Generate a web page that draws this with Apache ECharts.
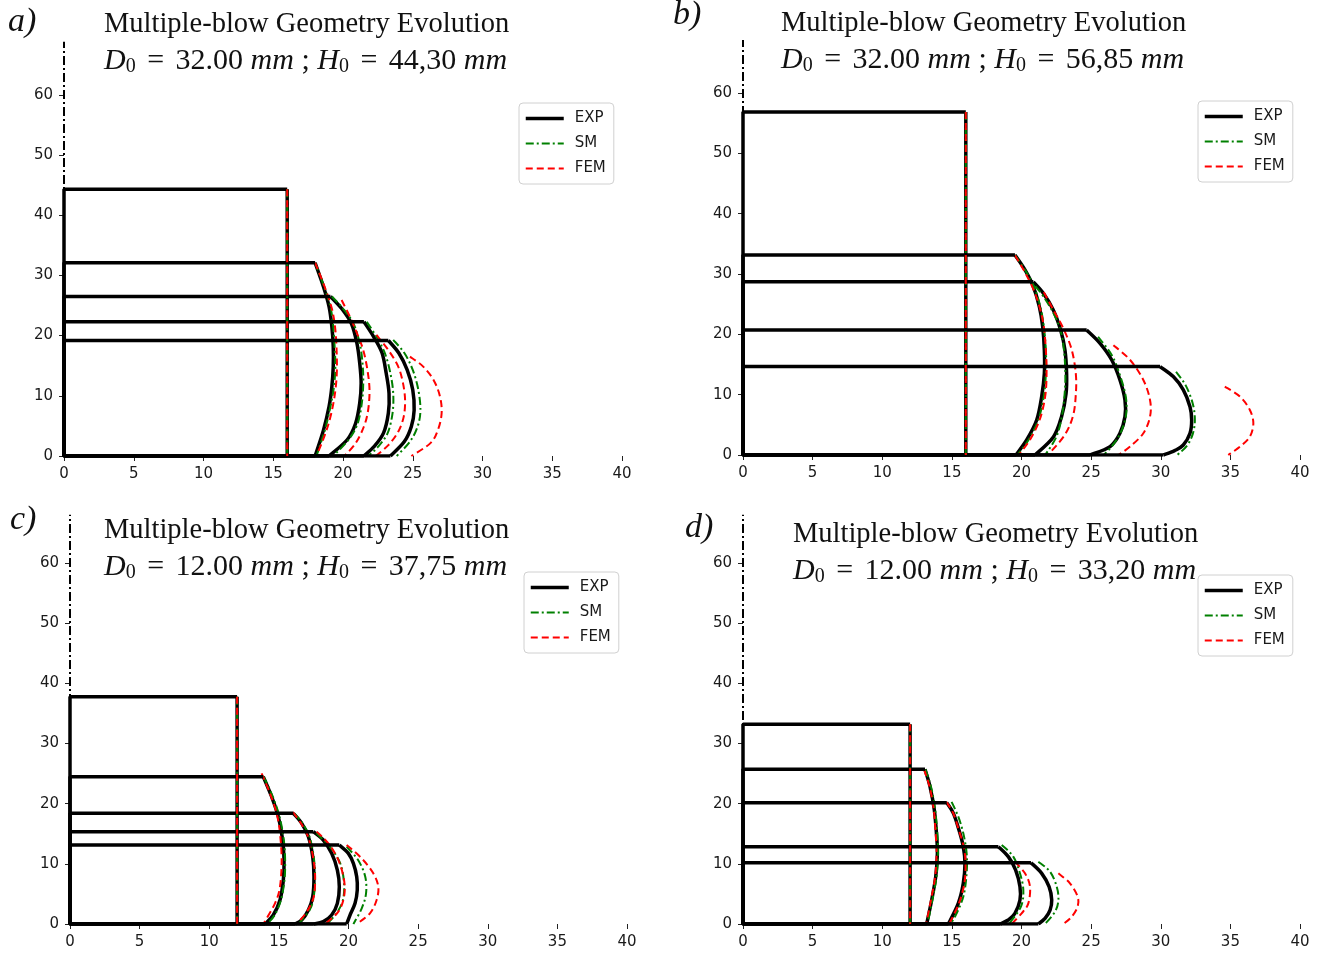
<!DOCTYPE html>
<html>
<head>
<meta charset="utf-8">
<script src="https://cdn.jsdelivr.net/npm/echarts@6/dist/echarts.min.js"></script>
<style>
  html, body { margin: 0; background: #fff; }
  #main { width: 1328px; height: 956px; }
</style>
</head>
<body>
<div id="main"></div>
<script>
const xTicks = [0, 5, 10, 15, 20, 25, 30, 35, 40];
const yTicks = [0, 10, 20, 30, 40, 50, 60];
const panelTags = ['a)', 'b)', 'c)', 'd)'];
const d0Labels = ['32.00', '32.00', '12.00', '12.00'];
const h0Labels = ['44,30', '56,85', '37,75', '33,20'];
const legendNames = ['EXP', 'SM', 'FEM'];

// side profiles [r, h] per blow, top corner first; first curve = initial billet
const expA = [
  [[16, 44.3], [16, 0]],
  [[18.0, 32.1], [18.6, 28.1], [19.0, 24.8], [19.2, 21.5], [19.3, 18.2], [19.3, 14.8], [19.2, 11.5], [19.0, 8.2], [18.6, 4.3], [18.0, 0]],
  [[19.1, 26.5], [19.9, 24.5], [20.6, 22.0], [21.0, 18.7], [21.2, 15.4], [21.3, 12.1], [21.2, 8.8], [20.9, 5.4], [20.3, 2.7], [19.0, 0]],
  [[21.5, 22.3], [22.2, 19.8], [22.8, 17.1], [23.1, 13.7], [23.3, 10.4], [23.25, 7.1], [22.9, 3.8], [22.2, 1.5], [21.5, 0]],
  [[23.25, 19.2], [24.0, 17.1], [24.6, 14.3], [25.0, 11.0], [25.1, 7.6], [24.9, 4.9], [24.4, 2.4], [23.4, 0]],
];
const smA = [
  [[16, 44.3], [16, 0]],
  [[18.0, 32.1], [18.65, 28.1], [19.1, 24.8], [19.3, 21.5], [19.4, 18.2], [19.45, 14.8], [19.35, 11.5], [19.1, 8.2], [18.7, 4.3], [18.1, 0]],
  [[19.2, 26.5], [20.0, 24.5], [20.75, 22.0], [21.2, 18.7], [21.4, 15.4], [21.45, 12.1], [21.35, 8.8], [21.05, 5.4], [20.4, 2.7], [19.3, 0]],
  [[21.7, 22.3], [22.4, 19.8], [23.0, 17.1], [23.4, 13.7], [23.6, 10.4], [23.55, 7.1], [23.2, 3.8], [22.5, 1.5], [21.8, 0]],
  [[23.6, 19.3], [24.4, 17.1], [25.0, 14.3], [25.4, 11.0], [25.55, 7.6], [25.35, 4.9], [24.8, 2.4], [23.85, 0]],
];
const femA = [
  [[16, 44.3], [16, 0]],
  [[18.0, 32.1], [18.7, 28.0], [19.2, 24.5], [19.45, 21.0], [19.55, 17.0], [19.55, 13.5], [19.4, 10.0], [19.1, 6.5], [18.7, 3.5], [18.1, 0]],
  [[19.9, 25.9], [20.5, 23.1], [21.0, 20.4], [21.45, 17.6], [21.75, 14.3], [21.9, 11.0], [21.8, 7.6], [21.5, 4.9], [20.9, 2.1], [20.1, 0]],
  [[22.4, 20.1], [23.25, 17.6], [23.95, 14.9], [24.3, 12.1], [24.45, 9.3], [24.35, 6.5], [23.95, 4.0], [23.25, 1.8], [22.35, 0]],
  [[24.8, 16.5], [25.75, 14.85], [26.5, 12.6], [26.95, 9.9], [27.07, 7.1], [26.8, 4.3], [26.25, 2.1], [24.9, 0]],
];

const expB = [
  [[16, 56.85], [16, 0]],
  [[19.53, 33.15], [20.25, 30.67], [20.85, 27.9], [21.28, 24.6], [21.52, 21.3], [21.64, 17.4], [21.64, 13.5], [21.45, 9.7], [21.09, 5.8], [20.37, 2.5], [19.6, 0]],
  [[20.85, 28.7], [21.57, 26.8], [22.29, 24.0], [22.81, 20.7], [23.12, 17.4], [23.24, 13.5], [23.2, 10.2], [22.88, 6.4], [22.29, 3.0], [20.97, 0]],
  [[24.68, 20.7], [25.64, 18.5], [26.48, 15.75], [27.07, 12.44], [27.43, 9.12], [27.43, 6.36], [27.07, 3.6], [26.36, 1.4], [24.92, 0]],
  [[29.95, 14.65], [30.9, 13.0], [31.62, 10.8], [32.1, 8.0], [32.22, 5.8], [32.1, 3.6], [31.62, 1.66], [31.0, 0.72], [30.19, 0]],
];
const smB = [
  [[16, 56.85], [16, 0]],
  [[19.53, 33.15], [20.3, 30.5], [20.9, 27.9], [21.35, 24.6], [21.6, 21.3], [21.75, 17.4], [21.75, 13.5], [21.6, 9.7], [21.2, 5.8], [20.5, 2.5], [19.7, 0]],
  [[21.0, 28.0], [21.6, 26.2], [22.3, 23.5], [22.8, 20.7], [23.05, 17.4], [23.15, 13.5], [23.1, 10.2], [22.9, 6.4], [22.5, 3.0], [21.7, 0]],
  [[25.5, 19.6], [26.5, 16.5], [27.1, 13.0], [27.5, 9.5], [27.5, 6.5], [27.1, 3.6], [26.5, 1.5], [25.9, 0]],
  [[31.1, 13.8], [31.8, 11.5], [32.3, 8.5], [32.45, 5.8], [32.3, 3.5], [31.9, 1.6], [31.2, 0]],
];
const femB = [
  [[16, 56.85], [16, 0]],
  [[19.53, 33.1], [20.2, 30.5], [20.85, 27.5], [21.3, 24.5], [21.6, 21.3], [21.75, 17.4], [21.8, 13.5], [21.7, 9.7], [21.3, 5.8], [20.6, 2.5], [19.8, 0]],
  [[21.6, 27.0], [22.3, 24.0], [23.0, 21.0], [23.6, 17.5], [23.9, 13.5], [23.9, 10.0], [23.7, 6.5], [23.1, 3.3], [21.9, 0]],
  [[26.6, 18.2], [27.8, 15.75], [28.75, 12.44], [29.23, 9.12], [29.23, 6.36], [28.75, 3.6], [27.8, 1.4], [26.95, 0]],
  [[34.6, 11.33], [35.7, 9.67], [36.4, 7.46], [36.65, 5.25], [36.4, 3.04], [35.7, 1.4], [34.85, 0]],
];

const expC = [
  [[12, 37.75], [12, 0]],
  [[13.88, 24.49], [14.48, 21.16], [14.96, 17.84], [15.27, 13.96], [15.37, 10.64], [15.32, 7.31], [15.08, 4.0], [14.6, 1.5], [14.0, 0]],
  [[16.04, 18.39], [16.64, 16.73], [17.12, 14.5], [17.43, 11.19], [17.52, 7.87], [17.43, 4.54], [17.12, 2.33], [16.64, 0.66], [16.16, 0]],
  [[17.47, 15.35], [18.19, 13.96], [18.79, 11.74], [19.2, 8.97], [19.34, 6.2], [19.2, 3.43], [18.79, 1.49], [18.19, 0.39], [17.47, 0]],
  [[19.34, 13.13], [19.99, 11.74], [20.35, 10.08], [20.59, 7.87], [20.63, 5.65], [20.47, 3.43], [20.11, 1.49], [19.87, 0]],
];
const smC = [
  [[12, 37.75], [12, 0]],
  [[13.9, 24.5], [14.55, 21.2], [15.05, 17.8], [15.35, 14.0], [15.45, 10.6], [15.4, 7.3], [15.15, 4.0], [14.7, 1.5], [14.15, 0]],
  [[16.1, 18.4], [16.7, 16.7], [17.2, 14.5], [17.5, 11.2], [17.6, 7.9], [17.5, 4.5], [17.2, 2.3], [16.4, 0]],
  [[17.7, 15.1], [18.65, 12.85], [19.4, 10.1], [19.68, 6.8], [19.6, 4.0], [19.15, 1.8], [18.45, 0]],
  [[19.87, 12.85], [20.7, 10.6], [21.2, 7.9], [21.26, 5.1], [20.95, 2.6], [20.35, 0]],
];
const femC = [
  [[12, 37.75], [12, 0]],
  [[13.76, 25.04], [14.36, 21.7], [14.84, 18.4], [15.08, 15.07], [15.2, 10.64], [15.08, 6.2], [14.72, 3.43], [13.88, 0]],
  [[16.0, 18.6], [16.6, 16.7], [17.1, 14.5], [17.45, 11.2], [17.6, 7.9], [17.5, 4.5], [17.0, 2.0], [16.28, 0]],
  [[17.71, 15.35], [18.55, 13.4], [19.27, 10.64], [19.68, 7.31], [19.68, 4.54], [19.27, 2.05], [18.31, 0]],
  [[19.87, 13.13], [20.95, 10.9], [21.78, 8.42], [22.14, 6.2], [22.02, 4.0], [21.54, 1.77], [20.59, 0]],
];

const expD = [
  [[12, 33.2], [12, 0]],
  [[13.07, 25.7], [13.43, 22.83], [13.74, 18.95], [13.91, 14.51], [13.96, 11.74], [13.84, 7.87], [13.55, 3.99], [13.19, 0]],
  [[14.63, 20.17], [15.11, 18.39], [15.51, 15.62], [15.82, 12.85], [15.94, 10.08], [15.82, 6.76], [15.46, 3.43], [14.75, 0]],
  [[18.34, 12.85], [19.05, 11.19], [19.58, 8.97], [19.89, 6.2], [19.89, 3.99], [19.53, 1.77], [19.05, 0.66], [18.46, 0]],
  [[20.68, 10.19], [21.45, 8.42], [21.98, 6.2], [22.17, 3.99], [22.05, 2.32], [21.69, 0.94], [21.21, 0]],
];
const smD = [
  [[12, 33.2], [12, 0]],
  [[13.1, 25.7], [13.5, 22.8], [13.8, 19.0], [13.97, 14.5], [14.0, 11.7], [13.9, 7.9], [13.6, 4.0], [13.25, 0]],
  [[14.98, 20.3], [15.46, 17.84], [15.82, 15.07], [16.06, 11.74], [16.06, 8.42], [15.82, 4.54], [15.22, 1.2], [14.87, 0]],
  [[18.58, 13.13], [19.41, 11.19], [19.89, 8.42], [20.13, 5.65], [19.96, 2.88], [19.1, 0]],
  [[21.21, 10.36], [22.05, 8.7], [22.53, 6.2], [22.65, 4.0], [22.41, 2.05], [21.69, 0]],
];
const femD = [
  [[12, 33.2], [12, 0]],
  [[13.0, 25.7], [13.4, 22.8], [13.7, 19.0], [13.85, 14.5], [13.9, 11.7], [13.8, 7.9], [13.5, 4.0], [13.15, 0]],
  [[14.6, 20.3], [15.1, 18.4], [15.5, 15.6], [15.85, 12.85], [15.98, 10.1], [15.9, 6.8], [15.5, 3.4], [14.8, 0]],
  [[19.53, 10.36], [20.25, 8.42], [20.61, 6.2], [20.49, 3.43], [20.01, 1.77], [19.29, 0]],
  [[22.65, 8.42], [23.48, 6.76], [24.03, 4.54], [24.03, 2.88], [23.6, 1.2], [23.0, 0]],
];

const profiles = [
  { exp: expA, sm: smA, fem: femA },
  { exp: expB, sm: smB, fem: femB },
  { exp: expC, sm: smC, fem: femC },
  { exp: expD, sm: smD, fem: femD },
];

// pixel layout of the four panels
const layout = [
  { grid: { left: 64, top: 40.6, width: 558, height: 415.4 }, axisTop: 68.8, tag: [8, 22], title: [104, 25], legend: [519, 103] },
  { grid: { left: 743, top: 38.7, width: 557, height: 416.3 }, axisTop: 68.8, tag: [673, 15], title: [781, 24], legend: [1198, 101] },
  { grid: { left: 70, top: 508.8, width: 557, height: 415.2 }, axisTop: 68, tag: [10, 520], title: [104, 531], legend: [524, 572] },
  { grid: { left: 743, top: 508.8, width: 557, height: 415.2 }, axisTop: 68, tag: [685, 528], title: [793, 535], legend: [1198, 575] },
];

const FONT = '"DejaVu Sans", sans-serif';
const SERIF = '"Liberation Serif", "Times New Roman", serif';
const expStyle = { color: '#000', width: 3.5 };
const smStyle = { color: '#008000', width: 2, type: [8, 3, 2, 3] };
const femStyle = { color: '#ff0000', width: 2, type: [7, 4] };
const axisStyle = { color: '#000', width: 2, type: [9, 3, 2, 3] };

// catmull-rom through the mapped pixel points
const spline = (pts) => {
  let d = 'M' + pts[0][0] + ',' + pts[0][1];
  for (let k = 0; k < pts.length - 1; k++) {
    const p0 = pts[k - 1] || pts[k];
    const p1 = pts[k];
    const p2 = pts[k + 1];
    const p3 = pts[k + 2] || p2;
    d += ' C' + (p1[0] + (p2[0] - p0[0]) / 6) + ',' + (p1[1] + (p2[1] - p0[1]) / 6)
      + ' ' + (p2[0] - (p3[0] - p1[0]) / 6) + ',' + (p2[1] - (p3[1] - p1[1]) / 6)
      + ' ' + p2[0] + ',' + p2[1];
  }
  return d;
};

const line = (name, data, idx, style) => ({
  type: 'line',
  name,
  data,
  xAxisIndex: idx,
  yAxisIndex: idx,
  symbol: 'none',
  lineStyle: style,
  itemStyle: { color: style.color },
  silent: true,
});

const curves = (name, list, idx, style) => ({
  type: 'custom',
  name,
  xAxisIndex: idx,
  yAxisIndex: idx,
  silent: true,
  data: list.map((c, k) => [k]),
  renderItem: (params, api) => {
    const pts = list[api.value(0)].map((p) => api.coord(p));
    return {
      type: 'path',
      shape: { pathData: spline(pts) },
      style: { fill: null, stroke: style.color, lineWidth: style.width, lineDash: style.type || null },
    };
  },
});

const series = [];
profiles.forEach((p, i) => {
  p.exp.forEach((c) => {
    const top = c[0];
    const bot = c[c.length - 1];
    // top face, symmetry side and bottom face of each blow
    series.push(line('EXP', [[top[0], top[1]], [0, top[1]], [0, 0], [bot[0], 0]], i, expStyle));
  });
  series.push(line('EXP', p.exp[0], i, expStyle));
  series.push(curves('EXP', p.exp.slice(1), i, expStyle));
  series.push(line('SM', p.sm[0], i, smStyle));
  series.push(curves('SM', p.sm.slice(1), i, smStyle));
  series.push(line('FEM', p.fem[0], i, femStyle));
  series.push(curves('FEM', p.fem.slice(1), i, femStyle));
  series.push(line('axis', [[0, 0], [0, layout[i].axisTop]], i, axisStyle));
});

const xAxis = layout.map((l, i) => ({
  type: 'value',
  gridIndex: i,
  min: 0,
  max: 40,
  interval: 5,
  axisLine: { show: false },
  axisTick: { show: true, length: 5, lineStyle: { color: '#222' } },
  splitLine: { show: false },
  axisLabel: { color: '#1a1a1a', fontSize: 15, fontFamily: FONT, margin: 11 },
}));

const yAxis = layout.map((l, i) => ({
  type: 'value',
  gridIndex: i,
  min: 0,
  max: 69,
  axisLine: { show: false },
  axisTick: { show: true, length: 5, customValues: yTicks, lineStyle: { color: '#222' } },
  splitLine: { show: false },
  axisLabel: { color: '#1a1a1a', fontSize: 15, fontFamily: FONT, margin: 11, customValues: yTicks },
}));

const legend = layout.map((l) => ({
  data: legendNames,
  orient: 'vertical',
  left: l.legend[0],
  top: l.legend[1],
  itemWidth: 38,
  itemHeight: 14,
  itemGap: 10,
  padding: [8, 8, 8, 5],
  backgroundColor: '#fff',
  borderColor: '#d0d0d0',
  borderWidth: 1,
  borderRadius: 4,
  selectedMode: false,
  itemStyle: { opacity: 0 },
  lineStyle: { width: 'inherit' },
  textStyle: { color: '#1a1a1a', fontSize: 15, fontFamily: FONT, padding: [0, 0, 0, 6] },
}));

const graphic = [];
layout.forEach((l, i) => {
  graphic.push({
    type: 'text', x: l.tag[0], y: l.tag[1],
    style: { text: panelTags[i], font: 'italic 34px ' + SERIF, fill: '#111', verticalAlign: 'middle' },
  });
  graphic.push({
    type: 'text', x: l.title[0], y: l.title[1],
    style: { text: 'Multiple-blow Geometry Evolution', font: '28.5px ' + SERIF, fill: '#111', verticalAlign: 'middle' },
  });
  graphic.push({
    type: 'text', x: l.title[0], y: l.title[1] + 36,
    style: {
      text: '{i|D}{s|0}{e| = }{n|' + d0Labels[i] + ' }{i|mm}{n| ; }{i|H}{s|0}{e| = }{n|' + h0Labels[i] + ' }{i|mm}',
      verticalAlign: 'middle',
      rich: {
        i: { font: 'italic 30px ' + SERIF, fill: '#111', lineHeight: 32 },
        n: { font: '30px ' + SERIF, fill: '#111', lineHeight: 32 },
        e: { font: '30px ' + SERIF, fill: '#111', lineHeight: 32, padding: [0, 4, 0, 4] },
        s: { font: '20px ' + SERIF, fill: '#111', lineHeight: 13, verticalAlign: 'bottom' },
      },
    },
  });
});

const chart = echarts.init(document.getElementById('main'));
chart.setOption({
  animation: false,
  backgroundColor: '#fff',
  grid: layout.map((l) => l.grid),
  xAxis,
  yAxis,
  legend,
  graphic,
  series,
});
</script>
</body>
</html>
